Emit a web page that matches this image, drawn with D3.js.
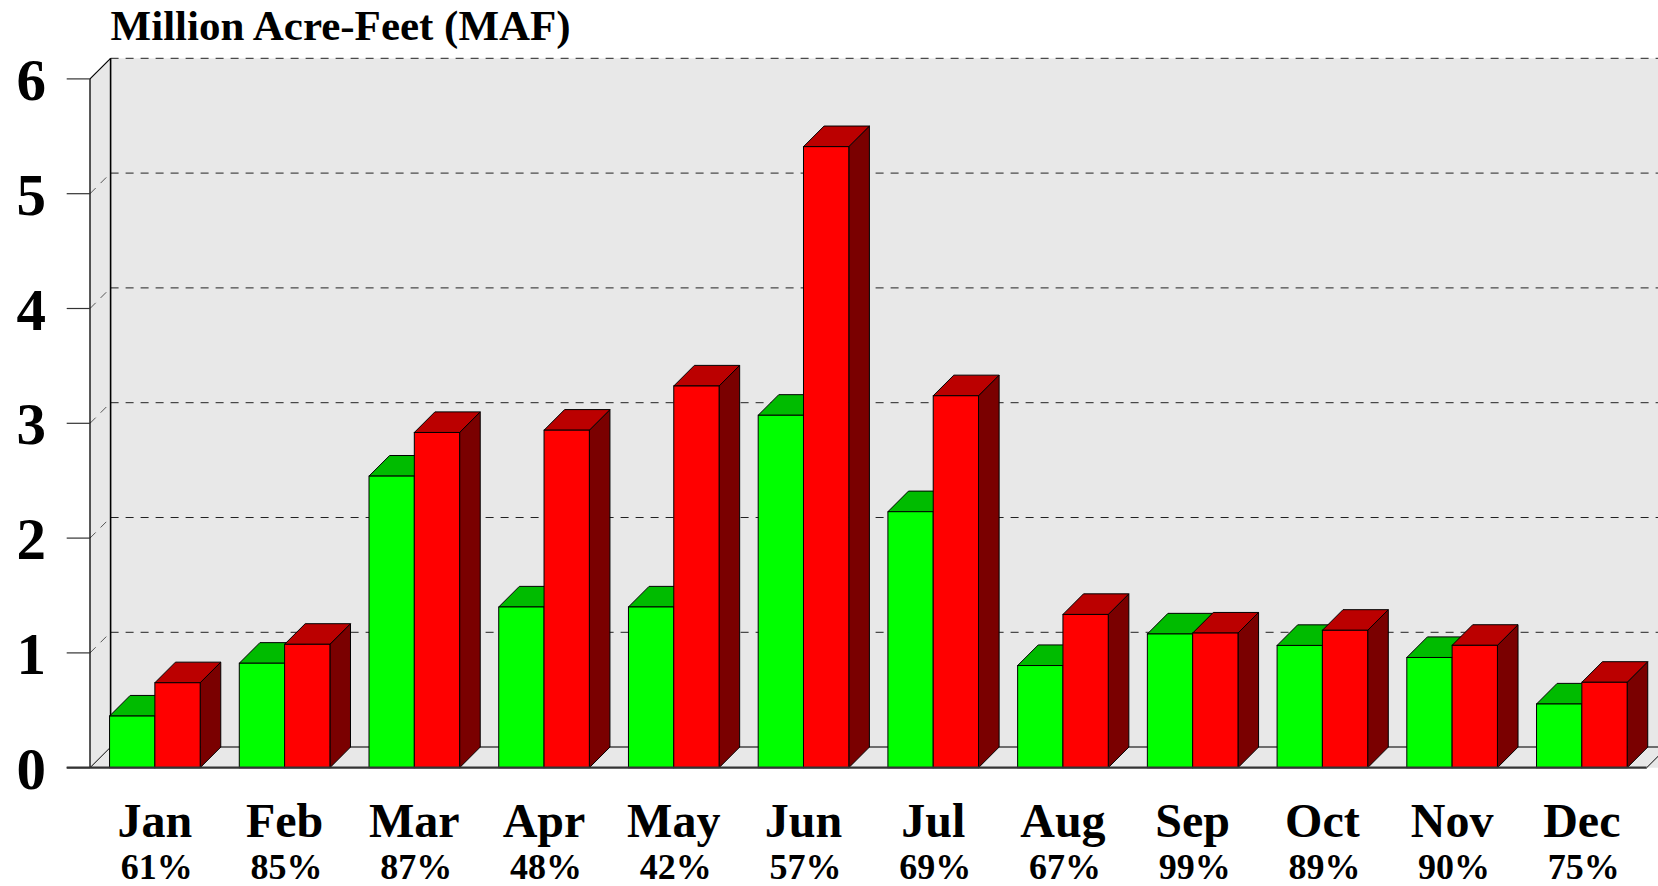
<!DOCTYPE html>
<html>
<head>
<meta charset="utf-8">
<script src="https://cdn.jsdelivr.net/npm/d3@7"></script>
<style>
  html, body { margin: 0; padding: 0; background: #fff; }
  svg { display: block; }
  text { font-family: "Liberation Serif", "Times New Roman", serif; font-weight: bold; fill: #000; }
</style>
</head>
<body>
<svg id="chart" width="1658" height="886"></svg>
<script>
// ---- data ----
const months = ["Jan","Feb","Mar","Apr","May","Jun","Jul","Aug","Sep","Oct","Nov","Dec"];
const percents = ["61%","85%","87%","48%","42%","57%","69%","67%","99%","89%","90%","75%"];
const greenValues = [0.45, 0.91, 2.54, 1.40, 1.40, 3.07, 2.23, 0.89, 1.165, 1.065, 0.96, 0.555];
const redValues   = [0.74, 1.075, 2.92, 2.94, 3.325, 5.41, 3.24, 1.335, 1.173, 1.197, 1.066, 0.744];
const yTicks = [0, 1, 2, 3, 4, 5, 6];
const series = ["green", "red"];
const yTitle = "Million Acre-Feet (MAF)";

// ---- layout ----
const svg = d3.select("#chart");
const pLeft = 90, pRight = 1646.7, pBottom = 767.7, pTop = 78.9;
const dx = 20.6, dy = 20.6;

const y = d3.scaleLinear().domain([0, 6]).range([pBottom, pTop]);
const x = d3.scaleBand().domain(months).range([pLeft, pRight]).padding(0);
const xs = d3.scaleBand().domain(series).range([0, x.bandwidth()]).paddingInner(0).paddingOuter(0.4316);

const colors = {
  green: { front: "#00ff00", top: "#00bb00", side: "#007a00" },
  red:   { front: "#ff0000", top: "#bb0000", side: "#7a0000" }
};
const wallFill = "#e8e8e8";
const farRight = pRight + dx;
const pts = arr => arr.map(p => p.join(",")).join(" ");

// back wall
svg.append("rect")
  .attr("x", pLeft + dx).attr("y", pTop - dy)
  .attr("width", farRight - (pLeft + dx) + 40).attr("height", pBottom - pTop)
  .attr("fill", wallFill);
// left side wall
svg.append("polygon")
  .attr("points", pts([[pLeft, pTop], [pLeft + dx, pTop - dy], [pLeft + dx, pBottom - dy], [pLeft, pBottom]]))
  .attr("fill", wallFill);
// floor
svg.append("polygon")
  .attr("points", pts([[pLeft, pBottom], [pLeft + dx, pBottom - dy], [farRight + 40, pBottom - dy], [pRight + 40, pBottom]]))
  .attr("fill", wallFill);

// gridlines on back wall and side wall
const gridG = svg.append("g");
yTicks.filter(t => t > 0).forEach(t => {
  const yy = y(t);
  gridG.append("line")
    .attr("x1", pLeft + dx).attr("x2", farRight + 40)
    .attr("y1", yy - dy).attr("y2", yy - dy)
    .attr("stroke", "#222").attr("stroke-width", 1)
    .attr("stroke-dasharray", "8,7");
  if (t < 6) {
    gridG.append("line")
      .attr("x1", pLeft).attr("y1", yy)
      .attr("x2", pLeft + dx).attr("y2", yy - dy)
      .attr("stroke", "#555").attr("stroke-width", 1)
      .attr("stroke-dasharray", "8,7");
  }
});

// back wall bottom edge
svg.append("line")
  .attr("x1", pLeft + dx).attr("x2", farRight + 40)
  .attr("y1", pBottom - dy).attr("y2", pBottom - dy)
  .attr("stroke", "#444").attr("stroke-width", 1.5);
// back wall left edge
svg.append("line")
  .attr("x1", pLeft + dx).attr("x2", pLeft + dx)
  .attr("y1", pTop - dy).attr("y2", pBottom - dy)
  .attr("stroke", "#000").attr("stroke-width", 1.6);
// side wall top and bottom diagonals
svg.append("line")
  .attr("x1", pLeft).attr("y1", pTop).attr("x2", pLeft + dx).attr("y2", pTop - dy)
  .attr("stroke", "#000").attr("stroke-width", 1.2);
svg.append("line")
  .attr("x1", pLeft).attr("y1", pBottom).attr("x2", pLeft + dx).attr("y2", pBottom - dy)
  .attr("stroke", "#000").attr("stroke-width", 1);
// floor right diagonal
svg.append("line")
  .attr("x1", pRight).attr("y1", pBottom).attr("x2", farRight).attr("y2", pBottom - dy)
  .attr("stroke", "#000").attr("stroke-width", 1);

// front y axis line
svg.append("line")
  .attr("x1", pLeft).attr("x2", pLeft)
  .attr("y1", pTop).attr("y2", pBottom)
  .attr("stroke", "#000").attr("stroke-width", 1.3);

// y ticks and labels
const tickG = svg.append("g");
yTicks.forEach(t => {
  tickG.append("line")
    .attr("x1", pLeft - 23.3).attr("x2", pLeft)
    .attr("y1", y(t)).attr("y2", y(t))
    .attr("stroke", "#333").attr("stroke-width", 1.2);
  tickG.append("text")
    .attr("x", 46).attr("y", y(t) + 21)
    .attr("text-anchor", "end")
    .style("font-size", "59px")
    .text(t);
});

// bars
const data = months.map((m, i) => ({ month: m, green: greenValues[i], red: redValues[i] }));
const barsG = svg.append("g");
data.forEach(d => {
  series.forEach(s => {
    const x0 = x(d.month) + xs(s);
    const w = xs.bandwidth();
    const yTop = y(d[s]);
    const c = colors[s];
    const g = barsG.append("g");
    g.append("polygon")
      .attr("points", pts([[x0 + w, yTop], [x0 + w + dx, yTop - dy], [x0 + w + dx, pBottom - dy], [x0 + w, pBottom]]))
      .attr("fill", c.side).attr("stroke", "#000").attr("stroke-width", 1).attr("stroke-linejoin", "round");
    g.append("polygon")
      .attr("points", pts([[x0, yTop], [x0 + dx, yTop - dy], [x0 + w + dx, yTop - dy], [x0 + w, yTop]]))
      .attr("fill", c.top).attr("stroke", "#000").attr("stroke-width", 1).attr("stroke-linejoin", "round");
    g.append("rect")
      .attr("x", x0).attr("y", yTop)
      .attr("width", w).attr("height", pBottom - yTop)
      .attr("fill", c.front).attr("stroke", "#000").attr("stroke-width", 1);
  });
});

// front baseline
svg.append("line")
  .attr("x1", pLeft - 23.3).attr("x2", pRight)
  .attr("y1", pBottom).attr("y2", pBottom)
  .attr("stroke", "#333").attr("stroke-width", 2.2);

// x labels
const labG = svg.append("g");
months.forEach((m, i) => {
  const cx = x(m) + x.bandwidth() / 2;
  labG.append("text")
    .attr("x", cx).attr("y", 836.5)
    .attr("text-anchor", "middle")
    .style("font-size", "48px")
    .text(m);
  labG.append("text")
    .attr("x", cx + 2).attr("y", 879)
    .attr("text-anchor", "middle")
    .style("font-size", "36px")
    .text(percents[i]);
});

// y title
svg.append("text")
  .attr("x", pLeft + dx).attr("y", 39.5)
  .attr("text-anchor", "start")
  .style("font-size", "43px")
  .text(yTitle);
</script>
</body>
</html>
